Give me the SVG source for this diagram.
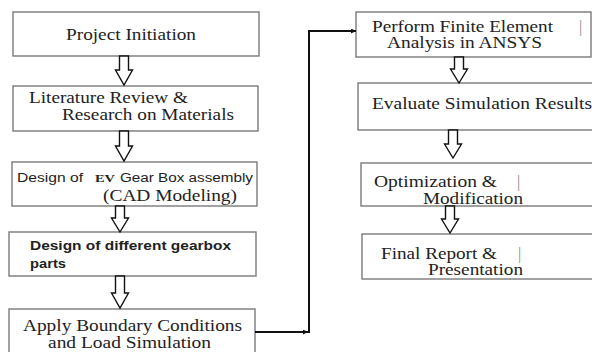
<svg xmlns="http://www.w3.org/2000/svg" width="592" height="352" viewBox="0 0 592 352">
<defs>
<style>
.box{fill:#fff;stroke:#7a7a7a;stroke-width:1.4}
.serif{font-family:"Liberation Serif","Times New Roman",serif;font-size:16px;fill:#222}
.sans{font-family:"Liberation Sans",Arial,sans-serif;font-size:12px;fill:#222}
.bold{font-weight:bold}
.bar{font-family:"Liberation Serif","Times New Roman",serif;font-size:16px;fill:#888}
.ha{fill:#fff;stroke:#111;stroke-width:1.4;stroke-linejoin:miter}
.conn{fill:none;stroke:#111;stroke-width:2}
</style>
<marker id="ah" viewBox="0 0 10 10" refX="10" refY="5" markerWidth="8" markerHeight="5" orient="auto" markerUnits="userSpaceOnUse">
<path d="M0,0 L10,5 L0,10 Z" fill="#111"/>
</marker>
</defs>
<rect width="592" height="352" fill="#fff"/>

<g id="n1">
<rect class="box" x="13" y="12" width="246" height="44"/>
<text class="serif" x="66" y="40" textLength="130" lengthAdjust="spacingAndGlyphs">Project Initiation</text>
</g>
<g id="n2">
<rect class="box" x="13" y="86" width="245" height="45"/>
<text class="serif" x="29" y="103" textLength="159" lengthAdjust="spacingAndGlyphs">Literature Review &amp;</text>
<text class="serif" x="62" y="120" textLength="172" lengthAdjust="spacingAndGlyphs">Research on Materials</text>
</g>
<g id="n3">
<rect class="box" x="12" y="162" width="245" height="44"/>
<text class="sans" x="17" y="182" textLength="66" lengthAdjust="spacingAndGlyphs">Design of</text>
<text x="95" y="182" font-family="Liberation Serif, serif" font-weight="bold" font-size="11" fill="#222" textLength="20" lengthAdjust="spacingAndGlyphs">EV</text>
<text class="sans" x="120" y="182" textLength="133" lengthAdjust="spacingAndGlyphs">Gear Box assembly</text>
<text class="serif" x="103" y="201" textLength="134" lengthAdjust="spacingAndGlyphs">(CAD Modeling)</text>
</g>
<g id="n4">
<rect class="box" x="9" y="232" width="247" height="44"/>
<text class="sans bold" x="30" y="250" font-size="13" textLength="201" lengthAdjust="spacingAndGlyphs">Design of different gearbox</text>
<text class="sans bold" x="30" y="268" font-size="13" textLength="36" lengthAdjust="spacingAndGlyphs">parts</text>
</g>
<g id="n5">
<rect class="box" x="9" y="309" width="246" height="60"/>
<text class="serif" x="23" y="331" textLength="219" lengthAdjust="spacingAndGlyphs">Apply Boundary Conditions</text>
<text class="serif" x="48" y="348" textLength="163" lengthAdjust="spacingAndGlyphs">and Load Simulation</text>
</g>
<g id="n6">
<rect class="box" x="356" y="12" width="235" height="45"/>
<text class="serif" x="372" y="32" textLength="181" lengthAdjust="spacingAndGlyphs">Perform Finite Element</text>
<text class="bar" x="579" y="32">|</text>
<text class="serif" x="387" y="48" textLength="155" lengthAdjust="spacingAndGlyphs">Analysis in ANSYS</text>
</g>
<g id="n7">
<rect class="box" x="358" y="83" width="250" height="47"/>
<text class="serif" x="372" y="109" textLength="220" lengthAdjust="spacingAndGlyphs">Evaluate Simulation Results</text>
</g>
<g id="n8">
<rect class="box" x="361" y="163" width="250" height="43"/>
<text class="serif" x="374" y="187" textLength="123" lengthAdjust="spacingAndGlyphs">Optimization &amp;</text>
<text class="bar" x="517" y="187">|</text>
<text class="serif" x="423" y="204" textLength="100" lengthAdjust="spacingAndGlyphs">Modification</text>
</g>
<g id="n9">
<rect class="box" x="362" y="234" width="250" height="45"/>
<text class="serif" x="381" y="259" textLength="116" lengthAdjust="spacingAndGlyphs">Final Report &amp;</text>
<text class="bar" x="518" y="259">|</text>
<text class="serif" x="428" y="275" textLength="95" lengthAdjust="spacingAndGlyphs">Presentation</text>
</g>

<g id="connectors">
<path class="ha" d="M119.5,56 H128.5 V70 H132.5 L124,85 L115.5,70 H119.5 Z"/>
<path class="ha" d="M119.5,131 H128.5 V146 H132.5 L124,161 L115.5,146 H119.5 Z"/>
<path class="ha" d="M115.5,206 H124.5 V218 H128.5 L120,232 L111.5,218 H115.5 Z"/>
<path class="ha" d="M115.5,276 H124.5 V293 H128.5 L120,308 L111.5,293 H115.5 Z"/>
<path class="ha" d="M454.5,57 H463.5 V69 H467.5 L459,83 L450.5,69 H454.5 Z"/>
<path class="ha" d="M448.5,130 H457.5 V144 H461.5 L453,158 L444.5,144 H448.5 Z"/>
<path class="ha" d="M445.5,206 H454.5 V219 H458.5 L450,233 L441.5,219 H445.5 Z"/>
<path class="conn" d="M255,332 H308" marker-end="url(#ah)"/>
<path class="conn" d="M309,333 V31 H356" marker-end="url(#ah)"/>
</g>
</svg>
